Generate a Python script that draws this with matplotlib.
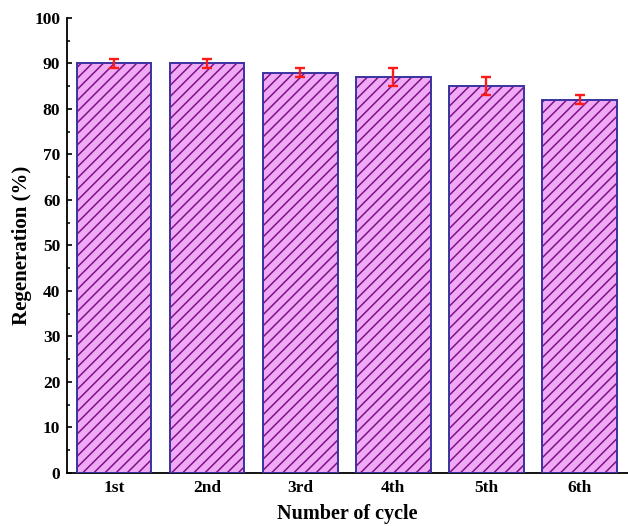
import numpy as np
import matplotlib.pyplot as plt
from matplotlib.ticker import MultipleLocator

# ── Data ─────────────────────────────────────────────────────────────────────
cycles = ["1st", "2nd", "3rd", "4th", "5th", "6th"]
regeneration = [90, 90, 88, 87, 85, 82]
errors = [1, 1, 1, 2, 2, 1]

plt.rcParams["font.family"] = ["Liberation Serif", "DejaVu Serif"]
plt.rcParams["font.weight"] = "bold"
plt.rcParams["hatch.linewidth"] = 1.1

fig = plt.figure(figsize=(6.28, 5.26), dpi=100)
ax = fig.add_axes([0.106, 0.1008, 0.894, 0.8650])

x = np.arange(1, len(cycles) + 1)

# hatch layer (purple lines on violet fill), then the navy outline on top
ax.bar(x, regeneration, width=0.8, color="#F0AAF5", edgecolor="#80108A",
       hatch="///", linewidth=0, zorder=2)
ax.bar(x, regeneration, width=0.8, facecolor="none", edgecolor="#3A32A0",
       linewidth=1.4, zorder=3)
ax.errorbar(x, regeneration, yerr=errors, fmt="none", ecolor="#FF1A1A",
            elinewidth=1.7, capsize=3.6, capthick=1.7, zorder=4)

ax.set_xlim(0.49, 6.52)
ax.set_ylim(0, 100)
ax.yaxis.set_major_locator(MultipleLocator(10))
ax.yaxis.set_minor_locator(MultipleLocator(5))
ax.set_xticks(x)
ax.set_xticklabels(cycles)

ax.spines["top"].set_visible(False)
ax.spines["right"].set_visible(False)
ax.spines["left"].set_linewidth(1.3)
ax.spines["bottom"].set_linewidth(1.3)

ax.tick_params(axis="y", which="major", direction="in", length=3.8, width=1.2,
               labelsize=12.5, pad=4.5)
ax.tick_params(axis="y", which="minor", direction="in", length=2.4, width=1.1)
ax.tick_params(axis="x", which="major", direction="in", length=3.5, width=1.2,
               labelsize=12.5, pad=5)

# the reference sits this label right on the bottom edge; keep it just inside
ax.set_xlabel("Number of cycle", fontsize=14.5, fontweight="bold", labelpad=6)
ax.set_ylabel("Regeneration (%)", fontsize=15, fontweight="bold", labelpad=2)

fig.savefig("out.png", dpi=100)
